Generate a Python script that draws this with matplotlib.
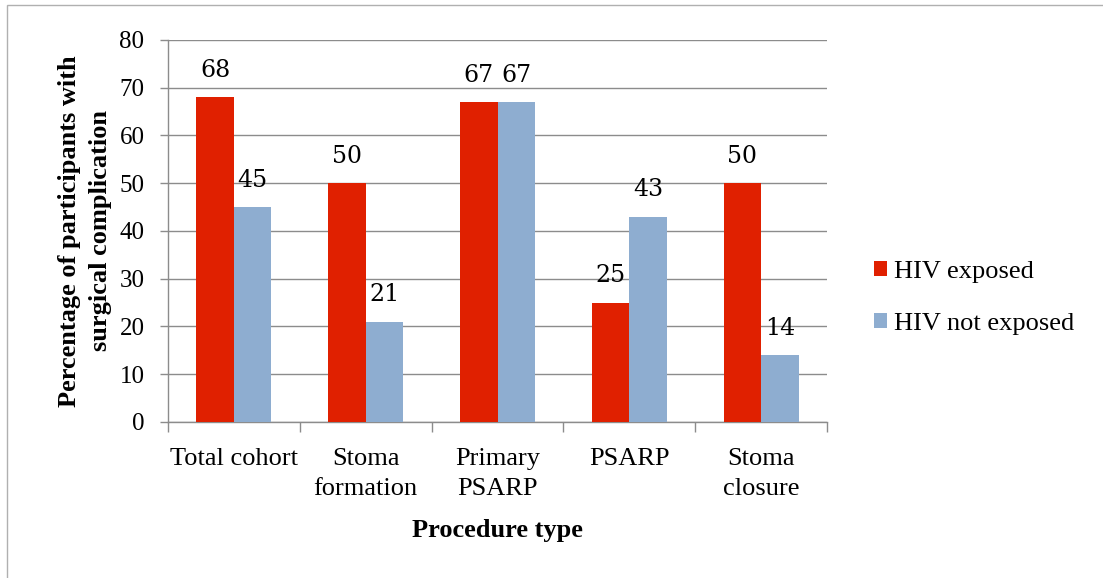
import matplotlib.pyplot as plt
import matplotlib.patches as mpatches
import numpy as np

categories = ["Total cohort", "Stoma\nformation", "Primary\nPSARP", "PSARP", "Stoma\nclosure"]
hiv_exposed = [68, 50, 67, 25, 50]
hiv_not_exposed = [45, 21, 67, 43, 14]
yticks = [0, 10, 20, 30, 40, 50, 60, 70, 80]

red = '#e02000'
blue = '#8eadd0'
grid_col = '#8c8c8c'
serif = 'Liberation Serif'

fig = plt.figure(figsize=(11.03, 5.78), dpi=100)
ax = fig.add_axes([0.1523, 0.2699, 0.5975, 0.6609])

x = np.arange(len(categories))
w = 0.285
b1 = ax.bar(x - w / 2, hiv_exposed, w, color=red, label='HIV exposed', zorder=3)
b2 = ax.bar(x + w / 2, hiv_not_exposed, w, color=blue, label='HIV not exposed', zorder=3)

# data labels above each bar
for bars in (b1, b2):
    for r in bars:
        ax.text(r.get_x() + r.get_width() / 2, r.get_height() + 5.6, f"{int(r.get_height())}",
                ha='center', va='center', fontsize=17, family='DejaVu Serif', color='black')

ax.set_xlim(-0.5, len(categories) - 0.5)
ax.set_ylim(0, 80)
ax.set_yticks(yticks)
ax.yaxis.grid(True, color=grid_col, lw=1, zorder=0)
ax.set_axisbelow(True)

ax.set_xticks(x)
ax.set_xticklabels(categories, family=serif, fontsize=19, linespacing=1.45)
ax.set_xticks(np.arange(-0.5, len(categories)), minor=True)
ax.tick_params(axis='x', which='major', length=0, pad=19)
ax.tick_params(axis='x', which='minor', length=7, color=grid_col, width=1)
ax.tick_params(axis='y', length=6, color=grid_col, width=1, pad=11)
for lbl in ax.get_yticklabels():
    lbl.set_family(serif)
    lbl.set_fontsize(18)

for s in ['top', 'right']:
    ax.spines[s].set_visible(False)
for s in ['left', 'bottom']:
    ax.spines[s].set_color(grid_col)
    ax.spines[s].set_linewidth(1)

ax.set_ylabel('Percentage of participants with\nsurgical complication', family=serif,
              fontsize=19, fontweight='bold', linespacing=1.45)
ax.yaxis.set_label_coords(-0.085, 0.5)
ax.set_xlabel('Procedure type', family=serif, fontsize=19, fontweight='bold')
ax.xaxis.set_label_coords(0.5, -0.253)

leg = ax.legend(loc='center left', bbox_to_anchor=(1.035, 0.325), frameon=False,
                prop={'family': serif, 'size': 19}, handlelength=0.5, handleheight=0.5,
                handletextpad=0.25, labelspacing=1.15)

# outer chart border
fig.patches.append(mpatches.Rectangle((7 / 1103, -0.01), 1.0, 1 - 5 / 578 + 0.01,
                                      transform=fig.transFigure, fill=False,
                                      edgecolor='#b0b0b0', lw=1))

fig.savefig('out.png', dpi=100)
